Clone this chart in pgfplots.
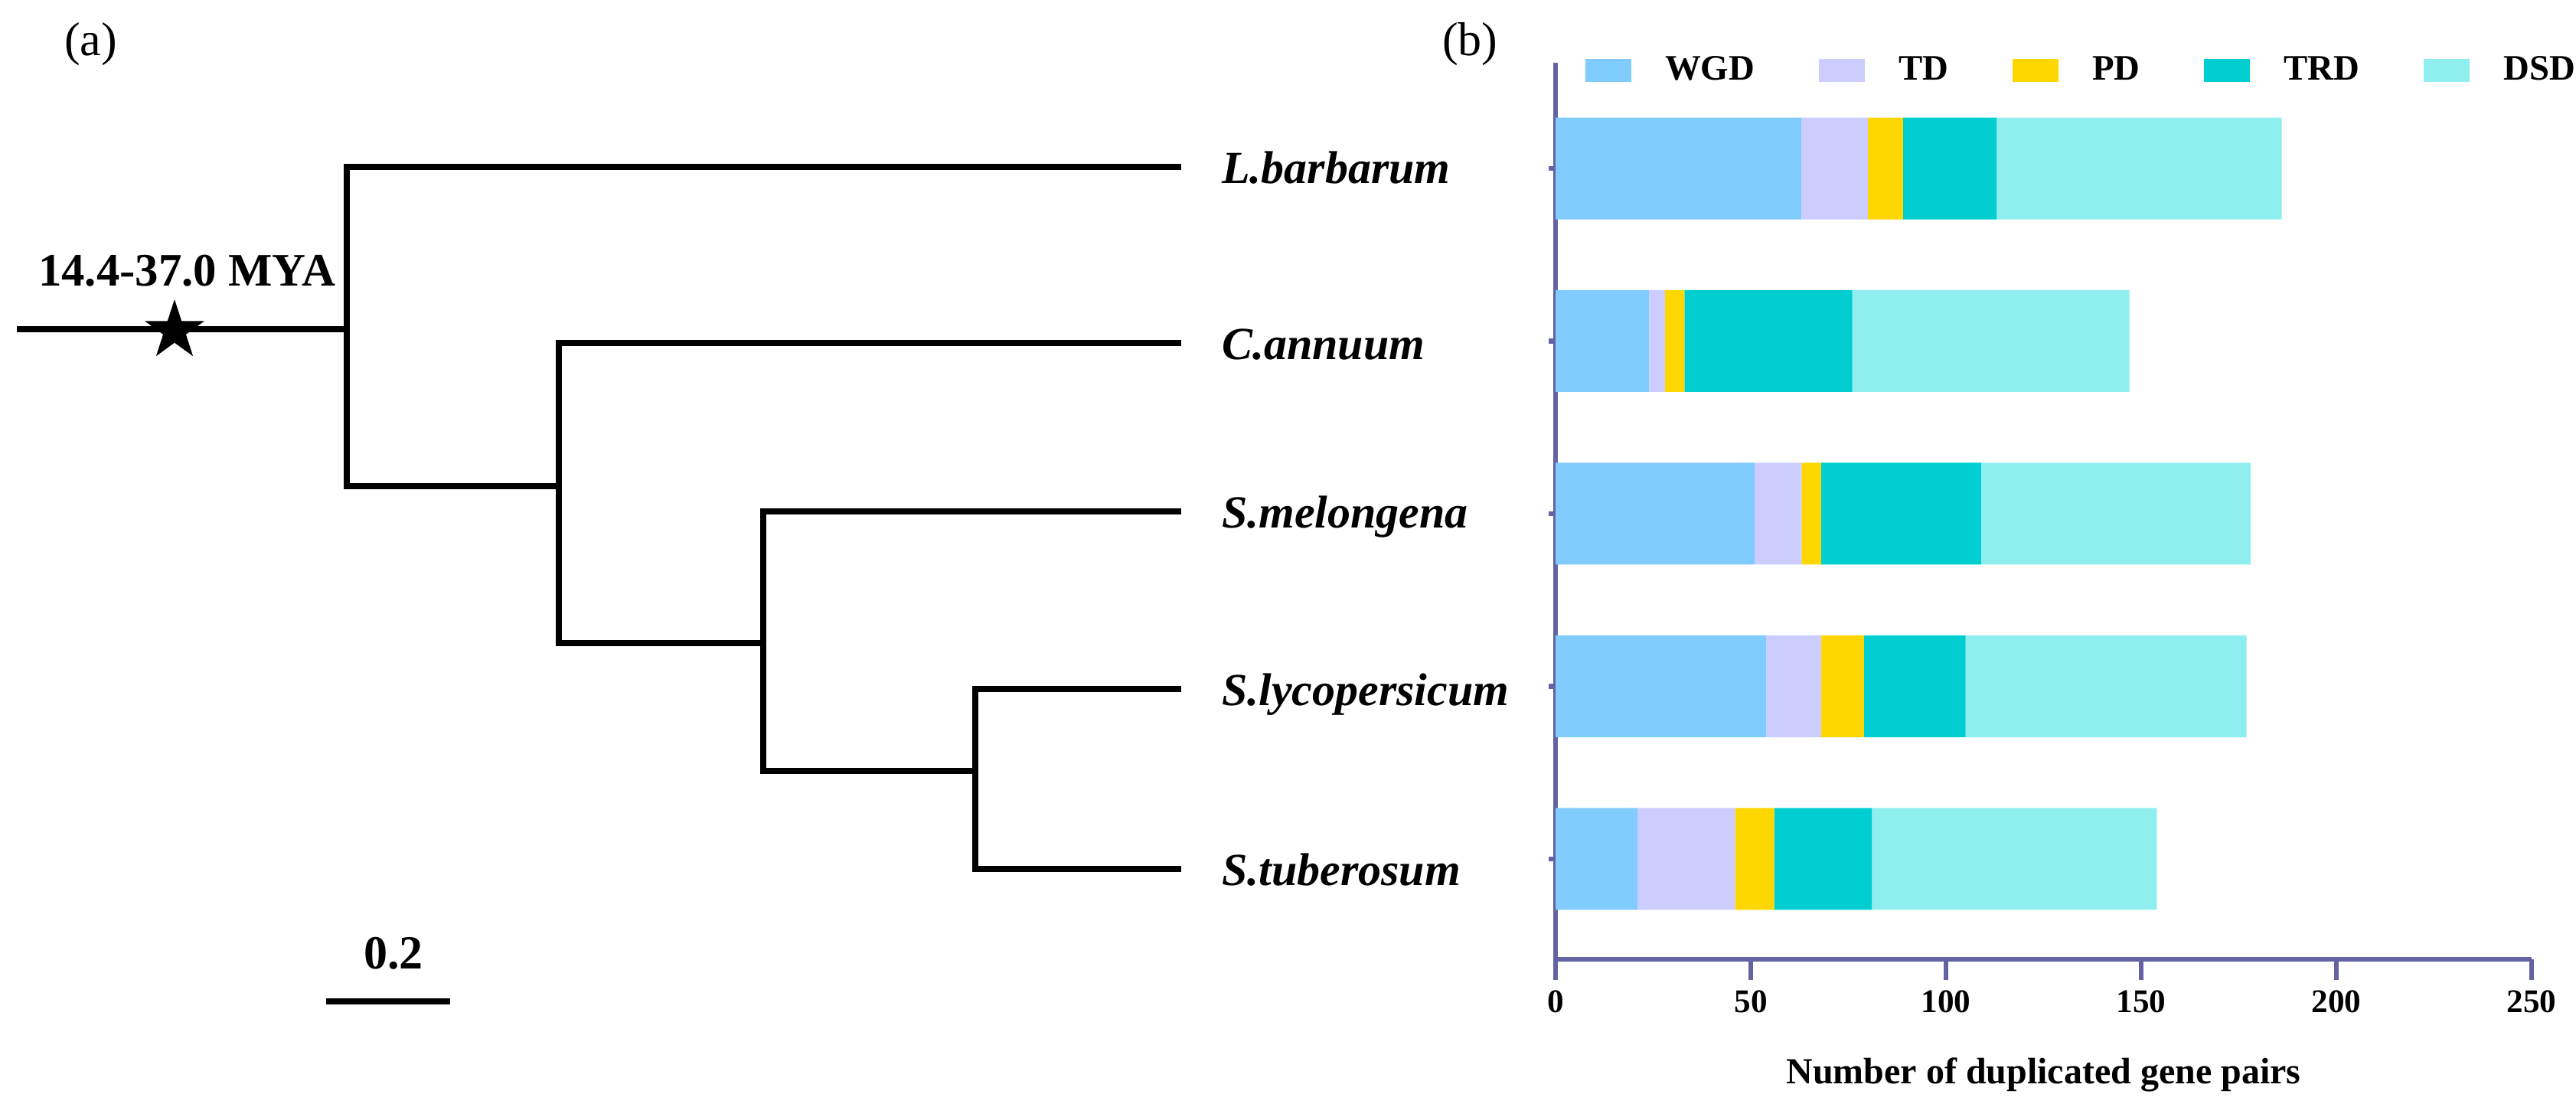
\documentclass[border=0pt]{standalone}
\usepackage{fontspec}
\setmainfont{Liberation Serif}
\usepackage{pgfplots}
\usepackage{pgfplotstable}
\pgfplotsset{compat=1.18}

\definecolor{axiscol}{RGB}{99,99,163}
\definecolor{cWGD}{RGB}{128,204,255}
\definecolor{cTD}{RGB}{204,204,255}
\definecolor{cPD}{RGB}{255,215,0}
\definecolor{cTRD}{RGB}{0,206,209}
\definecolor{cDSD}{RGB}{143,239,239}

% filled five-point star
\pgfdeclareplotmark{fstar}{%
  \pgfpathmoveto{\pgfpointpolar{90}{\pgfplotmarksize}}%
  \pgfpathlineto{\pgfpointpolar{126}{0.382\pgfplotmarksize}}%
  \pgfpathlineto{\pgfpointpolar{162}{\pgfplotmarksize}}%
  \pgfpathlineto{\pgfpointpolar{198}{0.382\pgfplotmarksize}}%
  \pgfpathlineto{\pgfpointpolar{234}{\pgfplotmarksize}}%
  \pgfpathlineto{\pgfpointpolar{270}{0.382\pgfplotmarksize}}%
  \pgfpathlineto{\pgfpointpolar{306}{\pgfplotmarksize}}%
  \pgfpathlineto{\pgfpointpolar{342}{0.382\pgfplotmarksize}}%
  \pgfpathlineto{\pgfpointpolar{18}{\pgfplotmarksize}}%
  \pgfpathlineto{\pgfpointpolar{54}{0.382\pgfplotmarksize}}%
  \pgfpathclose\pgfusepathqfill}

% duplicated gene pairs, rows from bottom (S.tuberosum) to top (L.barbarum)
\pgfplotstableread{
pos WGD TD PD TRD DSD
0   21  25 10 25  73
1   54  14 11 26  72
2   51  12  5 41  69
3   24   4  5 43  71
4   63  17  9 24  73
}\dup

\begin{document}
\begin{tikzpicture}
% (a) tree, drawn in a hidden axis in image pixel units
\begin{axis}[
    name=frame,
    width=841.25pt, height=364.5pt, scale only axis,
    xmin=0, xmax=3365, ymin=0, ymax=1458, y dir=reverse,
    hide axis, clip=false,
    tree/.style={black, line width=2.2pt, mark=none, line join=miter},
]
\addplot[tree] coordinates {(1543,218) (453,218) (453,635) (730,635)};
\addplot[tree] coordinates {(1543,448) (730,448) (730,840) (997,840)};
\addplot[tree] coordinates {(1543,668) (997,668) (997,1007) (1274,1007)};
\addplot[tree] coordinates {(1543,900) (1274,900) (1274,1135) (1543,1135)};
\addplot[tree] coordinates {(22,430) (453,430)};
\addplot[tree] coordinates {(426,1308) (588,1308)};
\addplot[only marks, mark=fstar, mark size=10.25pt, black] coordinates {(228,432)};

\node[anchor=base west, font=\fontsize{15.2}{18}\selectfont\bfseries] at (axis cs:36,373) {14.4-37.0 MYA};
\node[anchor=base, font=\fontsize{15.5}{18}\selectfont\bfseries] at (axis cs:514,1265) {0.2};
\node[anchor=base west, font=\fontsize{15.5}{18}\selectfont] at (axis cs:70,72) {(a)};
\node[anchor=base west, font=\fontsize{15.5}{18}\selectfont] at (axis cs:1870,72) {(b)};

\foreach \n/\y in {L.barbarum/218, C.annuum/448, S.melongena/668, S.lycopersicum/900, S.tuberosum/1135}{
  \edef\tmp{\noexpand\node[anchor=base west, font=\noexpand\fontsize{15}{18}\noexpand\selectfont\noexpand\bfseries\noexpand\itshape] at (axis cs:1582,\y+21) {\n};}
  \tmp
}
\path (axis cs:0,0) rectangle (axis cs:3365,1458);
\end{axis}

% (b) stacked bars
\begin{axis}[
    at={(508pt,51.25pt)}, anchor=south west,
    width=318.75pt, height=292.75pt, scale only axis,
    xbar stacked, bar width=33.25pt,
    xmin=0, xmax=250, ymin=-0.581, ymax=4.612,
    xtick={0,50,100,150,200,250},
    ytick={0,1,2,3,4}, yticklabels={},
    axis x line*=bottom, axis y line*=left,
    axis line style={draw=axiscol, line width=1.6pt},
    tick style={draw=axiscol, line width=1.6pt},
    tick align=outside,
    major tick length=6.75pt,
    y tick style={/pgfplots/major tick length=2.25pt},
    /pgf/number format/assume math mode=true,
    ticklabel style={font=\fontsize{10.8}{12}\selectfont\bfseries},
    xlabel={Number of duplicated gene pairs},
    x label style={at={(axis description cs:0.5,0)}, anchor=base, yshift=-40.5pt,
                   font=\fontsize{12}{14}\selectfont\bfseries},
    legend columns=5,
    legend style={at={(axis description cs:0.03,0.9915)}, anchor=west,
                  draw=none, fill=none, inner sep=0pt,
                  font=\fontsize{11.7}{14}\selectfont\bfseries,
                  /tikz/column sep=9pt,
                  /tikz/every even column/.append style={column sep=19pt}},
    legend image code/.code={\draw[#1, draw=none] (0pt,-3.75pt) rectangle (15pt,3.75pt);},
]
\addplot[fill=cWGD, draw=none] table[x=WGD, y=pos] {\dup};
\addplot[fill=cTD, draw=none] table[x=TD, y=pos] {\dup};
\addplot[fill=cPD, draw=none] table[x=PD, y=pos] {\dup};
\addplot[fill=cTRD, draw=none] table[x=TRD, y=pos] {\dup};
\addplot[fill=cDSD, draw=none] table[x=DSD, y=pos] {\dup};
\legend{WGD, TD, PD, TRD, DSD}
\end{axis}

\pgfresetboundingbox
\useasboundingbox (0,0) rectangle (841.25pt,364.5pt);
\end{tikzpicture}
\end{document}
